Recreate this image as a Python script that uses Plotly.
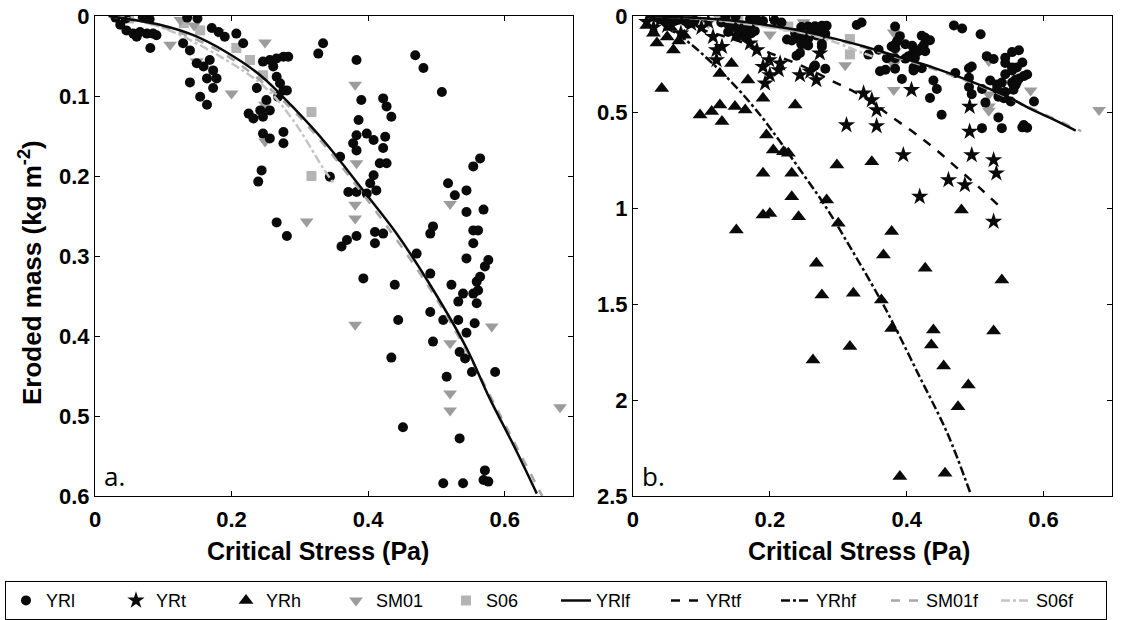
import plotly.graph_objects as go

# ---------------- data ----------------
yrl_x = [0.03, 0.045, 0.07, 0.08, 0.135, 0.15,
         0.037, 0.046, 0.056, 0.066, 0.076, 0.085, 0.090, 0.061, 0.081,
         0.129, 0.139, 0.149, 0.159, 0.168, 0.173, 0.178, 0.164, 0.139, 0.154, 0.164, 0.173,
         0.171, 0.181, 0.190, 0.207, 0.217, 0.237,
         0.246, 0.256, 0.266, 0.276, 0.283, 0.261, 0.266, 0.271, 0.276, 0.281, 0.268,
         0.225, 0.232, 0.242, 0.246, 0.256, 0.251,
         0.246, 0.256, 0.276, 0.276, 0.244, 0.239,
         0.334, 0.327, 0.383, 0.344, 0.469, 0.481, 0.508,
         0.390, 0.422, 0.427, 0.434, 0.386,
         0.383, 0.398, 0.408, 0.378, 0.383, 0.425, 0.422, 0.417, 0.427, 0.408, 0.403, 0.398, 0.412, 0.371, 0.383,
         0.359,
         0.564, 0.554, 0.517, 0.527, 0.544, 0.544, 0.569, 0.554, 0.561, 0.554, 0.544, 0.576, 0.571, 0.564, 0.559,
         0.410, 0.422, 0.410, 0.383, 0.369, 0.361,
         0.266, 0.281,
         0.471, 0.495, 0.491, 0.491,
         0.393, 0.439, 0.522, 0.539, 0.554,
         0.532, 0.559, 0.561, 0.491, 0.510, 0.532, 0.556, 0.544, 0.444,
         0.495, 0.534, 0.542, 0.434, 0.515, 0.552, 0.586,
         0.451, 0.534, 0.510, 0.539, 0.571, 0.569, 0.576]
yrl_y = [0.002, 0.003, 0.002, 0.004, 0.002, 0.003,
         0.011, 0.018, 0.022, 0.020, 0.022, 0.022, 0.024, 0.026, 0.040,
         0.034, 0.043, 0.059, 0.063, 0.055, 0.068, 0.078, 0.078, 0.083, 0.101, 0.111, 0.090,
         0.015, 0.020, 0.026, 0.022, 0.034, 0.090,
         0.057, 0.055, 0.053, 0.051, 0.051, 0.063, 0.076, 0.084, 0.093, 0.093, 0.101,
         0.122, 0.128, 0.118, 0.126, 0.118, 0.105,
         0.147, 0.153, 0.145, 0.159, 0.193, 0.207,
         0.034, 0.047, 0.055, 0.201, 0.049, 0.065, 0.095,
         0.105, 0.103, 0.113, 0.126, 0.130,
         0.149, 0.147, 0.155, 0.159, 0.168, 0.151, 0.165, 0.184, 0.184, 0.199, 0.209, 0.222, 0.218, 0.220, 0.220,
         0.176,
         0.178, 0.188, 0.209, 0.224, 0.218, 0.245, 0.242, 0.268, 0.268, 0.284, 0.303, 0.305, 0.313, 0.326, 0.332,
         0.270, 0.272, 0.284, 0.275, 0.280, 0.288,
         0.258, 0.275,
         0.297, 0.263, 0.272, 0.322,
         0.328, 0.336, 0.336, 0.347, 0.347,
         0.357, 0.359, 0.343, 0.370, 0.380, 0.380, 0.384, 0.396, 0.380,
         0.407, 0.420, 0.428, 0.427, 0.451, 0.445, 0.445,
         0.514, 0.528, 0.584, 0.584, 0.568, 0.580, 0.582]

yrt_x = [0.02, 0.03, 0.05, 0.07, 0.10, 0.117, 0.122, 0.122, 0.13, 0.15, 0.171, 0.181,
         0.19, 0.193, 0.20, 0.199, 0.213, 0.215, 0.244, 0.259, 0.268, 0.273,
         0.337, 0.349, 0.356, 0.312, 0.356, 0.395, 0.407, 0.419, 0.461, 0.485,
         0.492, 0.492, 0.495, 0.527, 0.531, 0.527,
         0.04, 0.085, 0.11, 0.16]
yrt_y = [0.03, 0.06, 0.05, 0.09, 0.06, 0.108, 0.177, 0.229, 0.16, 0.10, 0.142, 0.177,
         0.264, 0.351, 0.307, 0.229, 0.281, 0.247, 0.307, 0.29, 0.333, 0.194,
         0.403, 0.438, 0.49, 0.568, 0.573, 0.724, 0.385, 0.941, 0.854, 0.88,
         0.472, 0.602, 0.724, 0.75, 0.819, 1.071,
         0.02, 0.04, 0.03, 0.07]

yrh_x = [0.02, 0.03, 0.042, 0.05, 0.059, 0.067, 0.098, 0.115, 0.127, 0.13, 0.149, 0.164,
         0.144, 0.127, 0.168, 0.19, 0.237, 0.195, 0.205, 0.22, 0.227, 0.19, 0.232, 0.232,
         0.19, 0.20, 0.242, 0.151, 0.283, 0.298, 0.349, 0.30, 0.378, 0.366, 0.268, 0.427,
         0.48, 0.539, 0.276, 0.322, 0.363, 0.378, 0.439, 0.436, 0.317, 0.263, 0.454,
         0.49, 0.475, 0.527, 0.39, 0.456,
         0.035, 0.075, 0.055]
yrh_y = [0.05, 0.09, 0.377, 0.11, 0.177, 0.13, 0.516, 0.498, 0.464, 0.55, 0.472, 0.49,
         0.247, 0.299, 0.333, 0.429, 0.464, 0.62, 0.698, 0.707, 0.715, 0.819, 0.819, 0.941,
         1.036, 1.028, 1.045, 1.115, 0.958, 0.776, 0.759, 1.08, 1.123, 1.245, 1.288, 1.314,
         1.01, 1.375, 1.453, 1.444, 1.479, 1.627, 1.635, 1.714, 1.722, 1.792, 1.823,
         1.922, 2.035, 1.641, 2.399, 2.382,
         0.14, 0.10, 0.06]

sm01_x = [0.11, 0.125, 0.145, 0.149, 0.18, 0.20, 0.249, 0.249, 0.249, 0.31, 0.381, 0.383,
          0.381, 0.381, 0.381, 0.52, 0.52, 0.581, 0.52, 0.52, 0.681]
sm01_y = [0.036, 0.005, 0.012, 0.057, 0.02, 0.097, 0.033, 0.111, 0.157, 0.257, 0.086, 0.184,
          0.236, 0.253, 0.386, 0.235, 0.409, 0.388, 0.472, 0.493, 0.489]

s06_x = [0.05, 0.13, 0.154, 0.207, 0.227, 0.246, 0.317, 0.317]
s06_y = [0.003, 0.009, 0.018, 0.040, 0.055, 0.074, 0.12, 0.20]

yrlf_x = [0.02, 0.05, 0.095, 0.144, 0.192, 0.242, 0.29, 0.338, 0.39, 0.44, 0.49, 0.544, 0.578, 0.615, 0.647]
yrlf_y = [0.0, 0.004, 0.011, 0.024, 0.045, 0.074, 0.114, 0.159, 0.215, 0.27, 0.335, 0.415, 0.478, 0.54, 0.597]

yrtf_x = [0.02, 0.06, 0.102, 0.15, 0.20, 0.25, 0.288, 0.336, 0.38, 0.419, 0.449, 0.473, 0.505, 0.536]
yrtf_y = [0.0, 0.03, 0.073, 0.125, 0.193, 0.265, 0.333, 0.42, 0.53, 0.63, 0.715, 0.79, 0.89, 0.993]

yrhf_x = [0.02, 0.05, 0.083, 0.12, 0.156, 0.189, 0.213, 0.242, 0.281, 0.32, 0.359, 0.38, 0.419, 0.459, 0.4925]
yrhf_y = [0.0, 0.06, 0.142, 0.26, 0.39, 0.53, 0.645, 0.79, 0.99, 1.22, 1.46, 1.6, 1.88, 2.17, 2.48]

sm01f_x = [0.02, 0.10, 0.19, 0.29, 0.39, 0.49, 0.545, 0.60, 0.655]
sm01f_y = [0.0, 0.014, 0.048, 0.118, 0.22, 0.34, 0.42, 0.51, 0.60]

s06f_x = [0.03, 0.10, 0.192, 0.25, 0.29, 0.334, 0.35]
s06f_y = [0.0, 0.015, 0.055, 0.09, 0.13, 0.19, 0.21]

ya_ticks = [0, 0.1, 0.2, 0.3, 0.4, 0.5, 0.6]
ya_labels = ["0", "0.1", "0.2", "0.3", "0.4", "0.5", "0.6"]
yb_ticks = [0, 0.5, 1, 1.5, 2, 2.5]
yb_labels = ["0", "0.5", "1", "1.5", "2", "2.5"]
x_ticks = [0, 0.2, 0.4, 0.6]
x_labels = ["0", "0.2", "0.4", "0.6"]

x_title = "Critical Stress (Pa)"
y_title = "Eroded mass (kg m<sup>-2</sup>)"

# ---------------- styles ----------------
BLACK = "#0a0a0a"
GRAY_T = "#9c9c9c"
GRAY_S = "#b4b4b4"
GRAY_L1 = "#a8a8a8"
GRAY_L2 = "#c4c4c4"
FONT = "Liberation Sans, Arial, sans-serif"

fig = go.Figure()

def add_points(x, y, name, symbol, color, size, axis, show, rank):
    fig.add_trace(go.Scatter(
        x=x, y=y, mode="markers", name=name, legendrank=rank, showlegend=show,
        marker=dict(symbol=symbol, color=color, size=size, line=dict(width=0)),
        xaxis="x" if axis == 1 else "x2", yaxis="y" if axis == 1 else "y2"))

def add_line(x, y, name, color, dash, width, axis, show, rank):
    fig.add_trace(go.Scatter(
        x=x, y=y, mode="lines", name=name, legendrank=rank, showlegend=show,
        line=dict(color=color, dash=dash, width=width, shape="spline"),
        xaxis="x" if axis == 1 else "x2", yaxis="y" if axis == 1 else "y2"))

# panel a
add_points(s06_x, s06_y, "S06", "square", GRAY_S, 10, 1, True, 5)
add_points(sm01_x, sm01_y, "SM01", "triangle-down", GRAY_T, 12, 1, True, 4)
add_points(yrl_x, yrl_y, "YRl", "circle", BLACK, 10, 1, True, 1)
add_line(s06f_x, s06f_y, "S06f", GRAY_L2, "dashdot", 2.5, 1, True, 10)
add_line(sm01f_x, sm01f_y, "SM01f", GRAY_L1, "dash", 2.5, 1, True, 9)
add_line(yrlf_x, yrlf_y, "YRlf", BLACK, "solid", 2.5, 1, True, 6)

# panel b
add_points(s06_x, s06_y, "S06", "square", GRAY_S, 10, 2, False, 5)
add_points(sm01_x, sm01_y, "SM01", "triangle-down", GRAY_T, 12, 2, False, 4)
add_points(yrl_x, yrl_y, "YRl", "circle", BLACK, 10, 2, False, 1)
add_points(yrt_x, yrt_y, "YRt", "star", BLACK, 13, 2, True, 2)
add_points(yrh_x, yrh_y, "YRh", "triangle-up", BLACK, 13, 2, True, 3)
add_line(s06f_x, s06f_y, "S06f", GRAY_L2, "dashdot", 2.5, 2, False, 10)
add_line(sm01f_x, sm01f_y, "SM01f", GRAY_L1, "dash", 2.5, 2, False, 9)
add_line(yrlf_x, yrlf_y, "YRlf", BLACK, "solid", 2.5, 2, False, 6)
add_line(yrtf_x, yrtf_y, "YRtf", BLACK, "dash", 2.5, 2, True, 7)
add_line(yrhf_x, yrhf_y, "YRhf", BLACK, "dashdot", 2.5, 2, True, 8)

tickfont = dict(family=FONT, size=22, color="black", weight="bold")
xtitlefont = dict(family=FONT, size=25, color="black", weight="bold")
ytitlefont = dict(family=FONT, size=26, color="black", weight="bold")
ax_common = dict(showgrid=False, zeroline=False, showline=True, linecolor="black", linewidth=1,
                 mirror="ticks", ticks="inside", ticklen=5, tickcolor="black", tickwidth=1,
                 tickfont=tickfont, automargin=False)

fig.update_layout(
    width=1140, height=620,
    margin=dict(l=95, r=28, t=16, b=124, autoexpand=False),
    paper_bgcolor="white", plot_bgcolor="white",
    xaxis=dict(domain=[0, 0.47], range=[0, 0.7], tickvals=x_ticks, ticktext=x_labels,
               ticklabelstandoff=4, **ax_common),
    yaxis=dict(range=[0.6, 0], tickvals=ya_ticks, ticktext=ya_labels, **ax_common),
    xaxis2=dict(domain=[0.529, 1], range=[0, 0.7], tickvals=x_ticks, ticktext=x_labels,
                ticklabelstandoff=4, anchor="y2", **ax_common),
    yaxis2=dict(range=[2.5, 0], tickvals=yb_ticks, ticktext=yb_labels,
                anchor="x2", **ax_common),
    legend=dict(orientation="h", x=-0.0885, xanchor="left", y=-0.1775, yanchor="top",
                bordercolor="black", borderwidth=1, bgcolor="white",
                font=dict(family=FONT, size=18, color="black"),
                itemsizing="trace", tracegroupgap=0, itemwidth=30,
                entrywidth=65, entrywidthmode="pixels"),
    annotations=[
        dict(text="a.", x=0.015, y=0.0, xref="x domain", yref="y domain", xanchor="left", yanchor="bottom",
             showarrow=False, font=dict(family="Open Sans", size=26, color="black")),
        dict(text="b.", x=0.015, y=0.0, xref="x2 domain", yref="y2 domain", xanchor="left", yanchor="bottom",
             showarrow=False, font=dict(family="Open Sans", size=26, color="black")),
        dict(text=x_title, x=(318 - 95) / 1017, y=-(551 - 496) / 480, xref="paper", yref="paper",
             xanchor="center", yanchor="middle", showarrow=False, font=xtitlefont),
        dict(text=x_title, x=(859 - 95) / 1017, y=-(551 - 496) / 480, xref="paper", yref="paper",
             xanchor="center", yanchor="middle", showarrow=False, font=xtitlefont),
        dict(text=y_title, x=(30 - 95) / 1017, y=(496 - 273) / 480, xref="paper", yref="paper",
             xanchor="center", yanchor="middle", textangle=-90, showarrow=False, font=ytitlefont),
    ],
)

fig.write_html("out.html")
